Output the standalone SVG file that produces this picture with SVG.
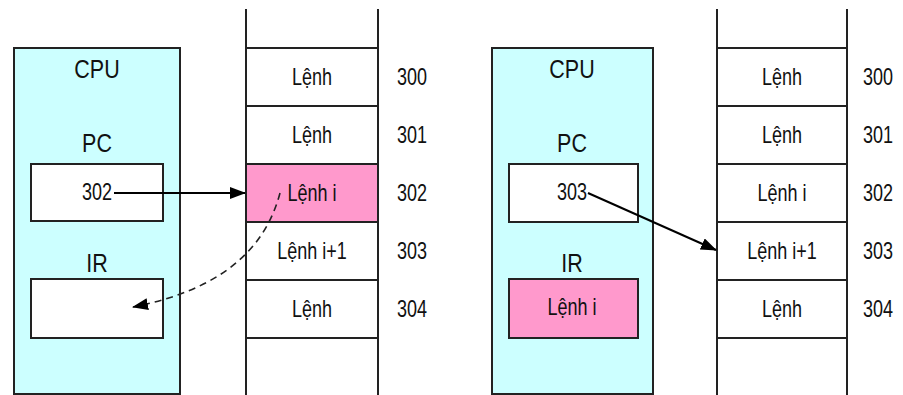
<svg xmlns="http://www.w3.org/2000/svg" width="903" height="395" viewBox="0 0 903 395">
<style>
.cpu{fill:#ccffff;stroke:#222;stroke-width:2}
.reg{fill:#fff;stroke:#222;stroke-width:2}
.pink{fill:#ff99cc;stroke:#222;stroke-width:2}
.ln{stroke:#222;stroke-width:2;fill:none}
text{font-family:"Liberation Sans",Arial,sans-serif;font-size:24px;fill:#111;text-anchor:middle}
text.lb{font-size:25px}
.arr{stroke:#000;stroke-width:2;fill:none}
.dash{stroke:#222;stroke-width:1.6;fill:none;stroke-dasharray:7 5}
</style>
<defs>
<marker id="ah" markerUnits="userSpaceOnUse" markerWidth="16" markerHeight="12" refX="15" refY="6" orient="auto">
<path d="M0,0 L16,6 L0,12 Z" fill="#000"/>
</marker>
</defs>
<rect width="903" height="395" fill="#fff"/>

<g id="cpu-left">
<rect class="cpu" x="14" y="48" width="166" height="346"/>
<text class="lb" transform="translate(97,78) scale(0.86,1)">CPU</text>
<text class="lb" transform="translate(97,152) scale(0.86,1)">PC</text>
<text class="lb" transform="translate(97,272) scale(0.86,1)">IR</text>
</g>
<g id="pc-left">
<rect class="reg" x="31" y="164" width="132" height="57"/>
<text transform="translate(97,200) scale(0.75,1)">302</text>
</g>
<g id="ir-left">
<rect class="reg" x="31" y="279" width="132" height="59"/>
</g>

<g id="mem-left">
<rect class="pink" x="246" y="164" width="132" height="58"/>
<line class="ln" x1="246" y1="9" x2="246" y2="395"/>
<line class="ln" x1="378" y1="9" x2="378" y2="395"/>
<line class="ln" x1="246" y1="48" x2="378" y2="48"/>
<line class="ln" x1="246" y1="106" x2="378" y2="106"/>
<line class="ln" x1="246" y1="164" x2="378" y2="164"/>
<line class="ln" x1="246" y1="222" x2="378" y2="222"/>
<line class="ln" x1="246" y1="280" x2="378" y2="280"/>
<line class="ln" x1="246" y1="338" x2="378" y2="338"/>
<text transform="translate(312,85) scale(0.75,1)">Lệnh</text>
<text transform="translate(312,143) scale(0.75,1)">Lệnh</text>
<text transform="translate(312,201) scale(0.75,1)">Lệnh i</text>
<text transform="translate(312,259) scale(0.75,1)">Lệnh i+1</text>
<text transform="translate(312,317) scale(0.75,1)">Lệnh</text>
<text transform="translate(412,85) scale(0.75,1)">300</text>
<text transform="translate(412,143) scale(0.75,1)">301</text>
<text transform="translate(412,201) scale(0.75,1)">302</text>
<text transform="translate(412,259) scale(0.75,1)">303</text>
<text transform="translate(412,317) scale(0.75,1)">304</text>
</g>

<g id="cpu-right">
<rect class="cpu" x="492" y="48" width="161" height="346"/>
<text class="lb" transform="translate(572,78) scale(0.86,1)">CPU</text>
<text class="lb" transform="translate(572,152) scale(0.86,1)">PC</text>
<text class="lb" transform="translate(572,272) scale(0.86,1)">IR</text>
</g>
<g id="pc-right">
<rect class="reg" x="509" y="164" width="129" height="58"/>
<text transform="translate(572,200) scale(0.75,1)">303</text>
</g>
<g id="ir-right">
<rect class="pink" x="509" y="279" width="129" height="59"/>
<text transform="translate(572,315) scale(0.75,1)">Lệnh i</text>
</g>

<g id="mem-right">
<line class="ln" x1="717" y1="9" x2="717" y2="395"/>
<line class="ln" x1="847" y1="9" x2="847" y2="395"/>
<line class="ln" x1="717" y1="48" x2="847" y2="48"/>
<line class="ln" x1="717" y1="106" x2="847" y2="106"/>
<line class="ln" x1="717" y1="164" x2="847" y2="164"/>
<line class="ln" x1="717" y1="222" x2="847" y2="222"/>
<line class="ln" x1="717" y1="280" x2="847" y2="280"/>
<line class="ln" x1="717" y1="338" x2="847" y2="338"/>
<text transform="translate(782,85) scale(0.75,1)">Lệnh</text>
<text transform="translate(782,143) scale(0.75,1)">Lệnh</text>
<text transform="translate(782,201) scale(0.75,1)">Lệnh i</text>
<text transform="translate(782,259) scale(0.75,1)">Lệnh i+1</text>
<text transform="translate(782,317) scale(0.75,1)">Lệnh</text>
<text transform="translate(878,85) scale(0.75,1)">300</text>
<text transform="translate(878,143) scale(0.75,1)">301</text>
<text transform="translate(878,201) scale(0.75,1)">302</text>
<text transform="translate(878,259) scale(0.75,1)">303</text>
<text transform="translate(878,317) scale(0.75,1)">304</text>
</g>

<g id="connectors">
<line class="arr" x1="114" y1="193" x2="245" y2="193" marker-end="url(#ah)"/>
<path class="dash" d="M280,193 C265,250 220,290 133,307" marker-end="url(#ah)"/>
<line class="arr" x1="588" y1="193" x2="716" y2="250" marker-end="url(#ah)"/>
</g>
</svg>
